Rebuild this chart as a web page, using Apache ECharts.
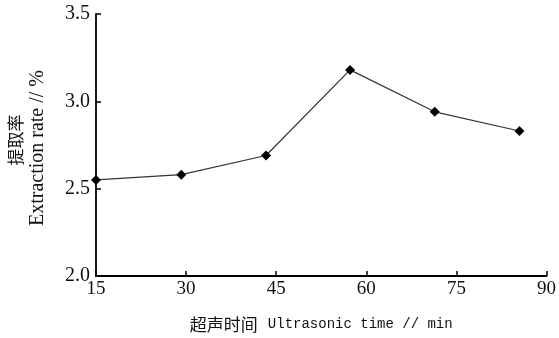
<!DOCTYPE html>
<html>
<head>
<meta charset="utf-8">
<script src="https://cdn.jsdelivr.net/npm/echarts@6/dist/echarts.min.js"></script>
<style>
html,body{margin:0;padding:0;background:#fff;}
#chart{width:559px;height:338px;}
</style>
</head>
<body>
<div id="chart"></div>
<script>
// Ultrasonic time (min)
var timeValues = [15, 29.2, 43.3, 57.3, 71.4, 85.5];
// Extraction rate (%)
var rateValues = [2.55, 2.58, 2.69, 3.18, 2.94, 2.83];
var xTicks = [15, 30, 45, 60, 75, 90];
var yTicks = [2.0, 2.5, 3.0, 3.5];

var seriesData = timeValues.map(function (t, i) { return [t, rateValues[i]]; });

var chart = echarts.init(document.getElementById('chart'), null, {renderer: 'canvas'});
chart.setOption({
  animation: false,
  backgroundColor: '#ffffff',
  grid: {left: 96, right: 11, top: 14, bottom: 59, containLabel: false},
  xAxis: {
    type: 'value',
    min: xTicks[0],
    max: xTicks[xTicks.length - 1],
    interval: 15,
    axisLine: {show: true, onZero: false, lineStyle: {color: '#000', width: 1.8}},
    axisTick: {show: true, inside: true, length: 5, lineStyle: {color: '#000', width: 1.5}},
    axisLabel: {color: '#111', fontFamily: 'Liberation Serif', fontSize: 19, margin: 4},
    splitLine: {show: false},
    name: '{cn|超声时间}{sp|}{en|Ultrasonic time // min}',
    nameLocation: 'middle',
    nameGap: 40,
    nameTextStyle: {
      rich: {
        cn: {color: '#111', fontFamily: 'Noto Sans CJK SC', fontSize: 17},
        sp: {width: 10},
        en: {color: '#111', fontFamily: 'Liberation Mono', fontSize: 14}
      }
    }
  },
  yAxis: {
    type: 'value',
    min: yTicks[0],
    max: yTicks[yTicks.length - 1],
    interval: 0.5,
    axisLine: {show: true, onZero: false, lineStyle: {color: '#000', width: 1.8}},
    axisTick: {show: true, inside: true, length: 5, lineStyle: {color: '#000', width: 1.5}},
    axisLabel: {
      color: '#111', fontFamily: 'Liberation Serif', fontSize: 20, margin: 6,
      formatter: function (v) { return v.toFixed(1); }
    },
    splitLine: {show: false}
  },
  graphic: [
    {
      type: 'text',
      x: 16, y: 140, rotation: Math.PI / 2,
      style: {text: '提取率', fill: '#111', font: '17px "Noto Sans CJK SC"', align: 'center', verticalAlign: 'middle'}
    },
    {
      type: 'text',
      x: 38, y: 148, rotation: Math.PI / 2,
      style: {text: 'Extraction rate // %', fill: '#111', font: '20px "Liberation Serif"', align: 'center', verticalAlign: 'middle'}
    }
  ],
  series: [{
    type: 'line',
    data: seriesData,
    symbol: 'diamond',
    symbolSize: 10,
    itemStyle: {color: '#000'},
    lineStyle: {color: '#333', width: 1.2},
    z: 3
  }]
});
</script>
</body>
</html>
